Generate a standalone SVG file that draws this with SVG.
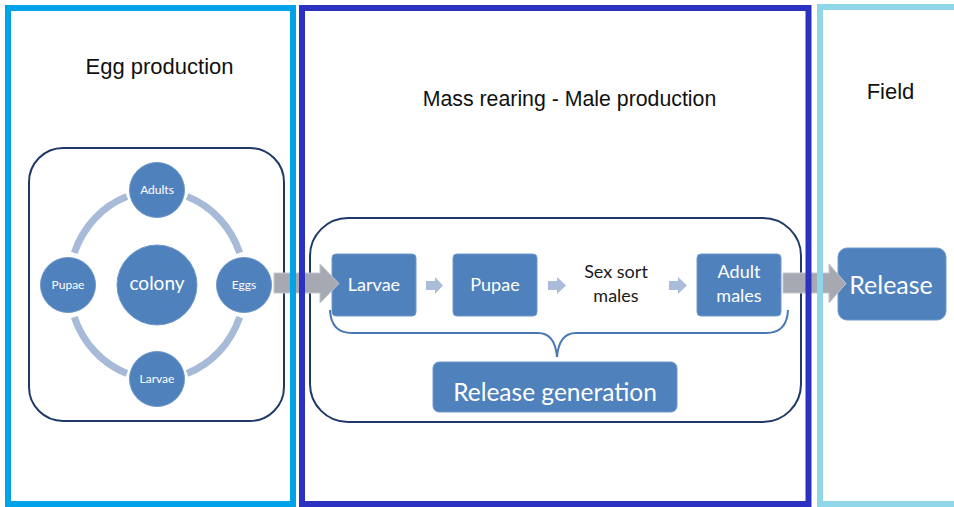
<svg xmlns="http://www.w3.org/2000/svg" width="954" height="507" viewBox="0 0 954 507">
<style>
.title{font-family:"Liberation Sans",Arial,sans-serif;font-size:22px;fill:#111;text-anchor:middle}
.frame{fill:none;stroke-width:6}
.group{fill:none;stroke:#1f3a68;stroke-width:2}
.node{fill:#4f81bd;stroke:#6f98cc;stroke-width:1}
.lbl{font-family:Lato,"Open Sans",sans-serif;fill:#fff;text-anchor:middle}
.ring{fill:none;stroke:#a7bad8;stroke-width:7}
.big{fill:#a6a9b2;stroke:#c4c6cc;stroke-width:1}
.small{fill:#a9bddb}
.brace{fill:none;stroke:#4a78b5;stroke-width:2}
</style>
<rect width="954" height="507" fill="#fff"/>

<g id="panel-titles">
<text class="title" x="159.5" y="74">Egg production</text>
<text class="title" x="569.5" y="106" style="font-size:21.3px">Mass rearing - Male production</text>
<text class="title" x="890.5" y="99">Field</text>
</g>

<g id="group-colony"><rect class="group" x="29" y="148" width="255" height="273" rx="34"/></g>
<g id="group-rearing"><rect class="group" x="310" y="218" width="491" height="204" rx="38"/></g>

<g id="connectors-ring">
<path class="ring" d="M187.1,196.6 A88,94 0 0 1 239.7,252.9"/>
<path class="ring" d="M239.7,317.1 A88,94 0 0 1 187.1,373.4"/>
<path class="ring" d="M126.9,373.4 A88,94 0 0 1 74.3,317.1"/>
<path class="ring" d="M74.3,252.9 A88,94 0 0 1 126.9,196.6"/>
</g>

<g id="node-colony"><circle class="node" cx="157" cy="285" r="40"/><text class="lbl" x="157" y="290" style="font-size:19px">colony</text></g>
<g id="node-adults"><circle class="node" cx="157" cy="190" r="27.5"/><text class="lbl" x="157" y="194" style="font-size:12px">Adults</text></g>
<g id="node-eggs"><circle class="node" cx="244" cy="285" r="27.5"/><text class="lbl" x="244" y="289" style="font-size:12px">Eggs</text></g>
<g id="node-larvae-c"><circle class="node" cx="157" cy="379" r="27.5"/><text class="lbl" x="157" y="383" style="font-size:12px">Larvae</text></g>
<g id="node-pupae-c"><circle class="node" cx="68" cy="285" r="27.5"/><text class="lbl" x="68" y="289" style="font-size:12px">Pupae</text></g>

<g id="node-larvae"><rect class="node" x="332" y="254" width="84" height="62" rx="4"/><text class="lbl" x="374" y="291" style="font-size:18px">Larvae</text></g>
<g id="node-pupae"><rect class="node" x="453" y="254" width="84" height="62" rx="4"/><text class="lbl" x="495" y="291" style="font-size:18px">Pupae</text></g>
<g id="node-sexsort"><text class="lbl" x="616" y="278" style="font-size:18px;fill:#1a1a1a">Sex sort</text><text class="lbl" x="616" y="302" style="font-size:18px;fill:#1a1a1a">males</text></g>
<g id="node-adultmales"><rect class="node" x="697" y="254" width="84" height="62" rx="4"/><text class="lbl" x="739" y="278" style="font-size:18px">Adult</text><text class="lbl" x="739" y="302" style="font-size:18px">males</text></g>
<g id="node-releasegen"><rect class="node" x="433" y="362" width="244" height="50" rx="6"/><text class="lbl" x="555" y="401" style="font-size:24.5px">Release generation</text></g>
<g id="node-release"><rect class="node" x="838" y="248" width="108" height="72" rx="9"/><text class="lbl" x="891" y="294" style="font-size:25px">Release</text></g>

<g id="connectors">
<path class="brace" d="M330,310 Q331,333 352,333 L538,333 Q555,333 557,357 Q559,333 576,333 L766,333 Q787,333 788,310"/>
<polygon class="small" points="426,281 435,281 435,277 443,285.5 435,294 435,290 426,290"/>
<polygon class="small" points="548,281 557,281 557,277 566,285.5 557,294 557,290 548,290"/>
<polygon class="small" points="669,281 678,281 678,277 687,285.5 678,294 678,290 669,290"/>
<polygon class="big" points="274,273 320,273 320,264 339,283.5 320,303 320,293 274,293"/>
<polygon class="big" points="783,273 829,273 829,264 846,283.5 829,303 829,293 783,293"/>
</g>

<g id="panel-frames">
<rect class="frame" x="8" y="8" width="285" height="496" stroke="#00a2e8"/>
<rect class="frame" x="302" y="8" width="506.5" height="496" stroke="#2d31c1"/>
<rect class="frame" x="820" y="7" width="150" height="497" stroke="#8fd6e9"/>
</g>
</svg>
